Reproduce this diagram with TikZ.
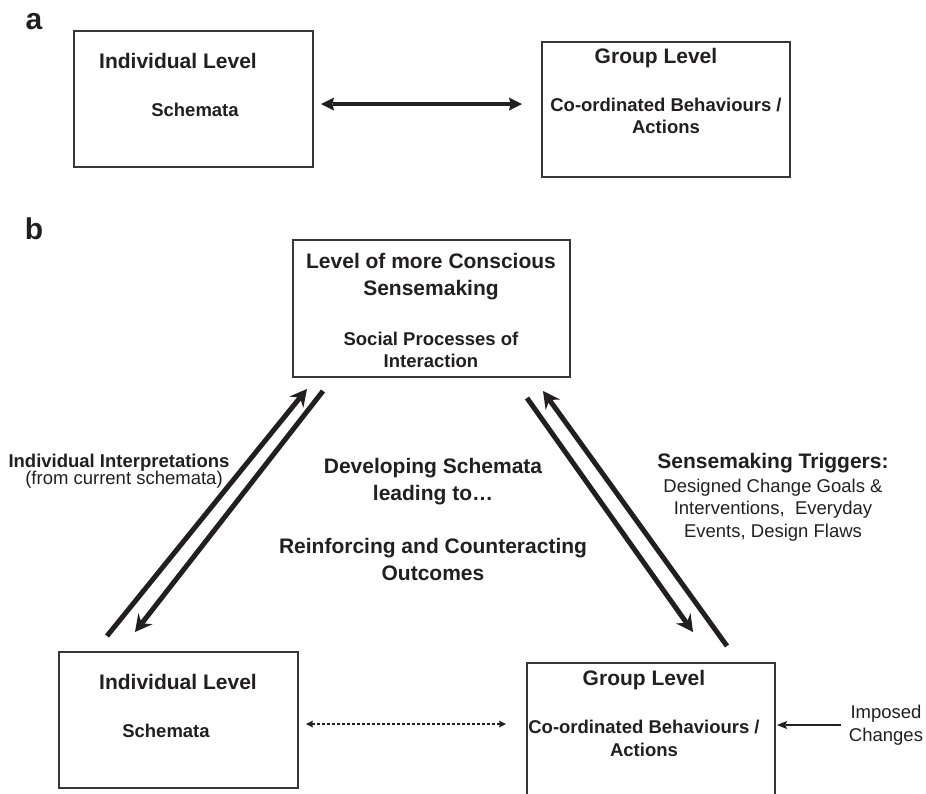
\documentclass[tikz,border=0pt]{standalone}
\usepackage{fontspec}
\setmainfont{Liberation Sans}
\usetikzlibrary{arrows.meta,calc}
\definecolor{ink}{RGB}{35,31,32}
\definecolor{frame}{RGB}{55,55,55}

\begin{document}
\begin{tikzpicture}[x=1pt,y=-1pt,
  lvlbox/.style={draw=frame,line width=1.3pt,inner sep=0pt,outer sep=0pt,fill=white},
  head/.style={font=\fontsize{21}{27}\selectfont\bfseries,text=ink,inner sep=0pt,align=center},
  sub/.style={font=\fontsize{18.5}{22.5}\selectfont\bfseries,text=ink,inner sep=0pt,align=center},
  plain/.style={font=\fontsize{18.5}{22.5}\selectfont,text=ink,inner sep=0pt,align=center},
  panel/.style={font=\fontsize{30}{30}\selectfont\bfseries,text=ink,inner sep=0pt},
  flow/.style={draw=ink,line width=5pt,-{Stealth[length=17pt,width=18pt,inset=6pt,line width=0pt]}},
  dblflow/.style={draw=ink,line width=3.5pt,
    {Stealth[length=13pt,width=13pt,inset=1.5pt,line width=0pt]}-{Stealth[length=13pt,width=13pt,inset=1.5pt,line width=0pt]}},
  dashlink/.style={draw=ink,line width=1.5pt,dash pattern=on 3pt off 2pt,
    {Stealth[length=7pt,width=7pt,inset=1pt,line width=0pt]}-{Stealth[length=7pt,width=7pt,inset=1pt,line width=0pt]}},
  thinflow/.style={draw=ink,line width=2pt,-{Stealth[length=10pt,width=8pt,inset=1.5pt,line width=0pt]}}
]
\useasboundingbox (0,0) rectangle (926,793);
\fill[white] (0,0) rectangle (926,793);
\clip (0,0) rectangle (926,793);

% ---------- panel a ----------
\node[panel] (pa) at (34,22) {a};
\node[lvlbox,minimum width=239pt,minimum height=136pt] (a1) at (193.5,99) {};
\node[lvlbox,minimum width=248pt,minimum height=135pt] (a2) at (666,109.5) {};
\node[head] (a1h) at (178,61) {Individual Level};
\node[sub]  (a1s) at (195,110) {Schemata};
\node[head] (a2h) at (656,58) {Group Level};
\node[sub]  (a2s) at (666,116) {Co-ordinated Behaviours /\\Actions};
\draw[dblflow,shorten <=8pt,shorten >=20pt] (a1.east |- 0,104) -- (a2.west |- 0,104);

% ---------- panel b ----------
\node[panel] (pb) at (34,229) {b};
\node[lvlbox,minimum width=277pt,minimum height=137pt] (snm) at (431.5,308.5) {};
\node[lvlbox,minimum width=239pt,minimum height=136pt] (il) at (178.5,720) {};
\node[lvlbox,minimum width=248pt,minimum height=142pt] (gl) at (651,734) {};

\node[head] (snmh) at (431,276.5) {Level of more Conscious\\Sensemaking};
\node[sub]  (snms) at (431,350) {Social Processes of\\Interaction};
\node[head] (ilh) at (178,682) {Individual Level};
\node[sub]  (ils) at (166,731) {Schemata};
\node[head] (glh) at (644,680) {Group Level};
\node[sub]  (gls) at (644,738.5) {Co-ordinated Behaviours /\\Actions};

% labels between the levels
\node[sub]   (interp)  at (119,463) {Individual Interpretations};
\node[plain] (interp2) at (124,480) {(from current schemata)};
\node[head]  (dev)  at (433,482) {Developing Schemata\\leading to\ldots};
\node[head]  (rein) at (433,559) {Reinforcing and Counteracting\\Outcomes};
\node[head]  (trig) at (773,463) {Sensemaking Triggers:};
\node[plain] (trigs) at (773,510) {Designed Change Goals \&\\Interventions,\ \ Everyday\\Events, Design Flaws};
\node[plain] (imp) at (886,725) {Imposed\\Changes};

% paired flows
\draw[flow] ([shift={(48,-16)}]il.north west) -- ([shift={(14,12)}]snm.south west);
\draw[flow] ([shift={(30,14)}]snm.south west) -- ([shift={(76,-20)}]il.north west);
\draw[flow] ([shift={(-43,21)}]snm.south east) -- ([shift={(166,-31)}]gl.north west);
\draw[flow] ([shift={(200,-17)}]gl.north west) -- ([shift={(-27,14)}]snm.south east);

% level links
\draw[dashlink,shorten <=8pt,shorten >=21pt] (il.east |- 0,724) -- (gl.west |- 0,724);
\draw[thinflow,shorten <=8pt,shorten >=2pt] (imp.west) -- (gl.east |- imp.west);
\end{tikzpicture}
\end{document}
